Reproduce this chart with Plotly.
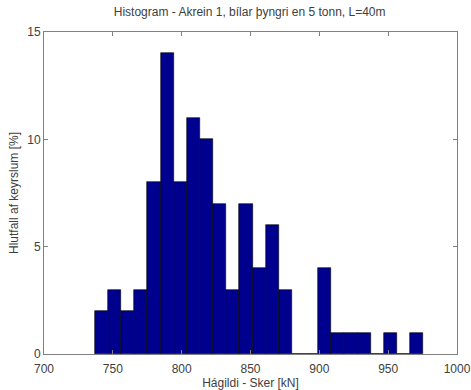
import plotly.graph_objects as go

# Histogram of peak shear for lane 1, vehicles heavier than 5 t, span L=40 m
bin_start = 737.0        # kN, left edge of the first bin
bin_width = 9.54         # kN
percent = [2, 3, 2, 3, 8, 14, 8, 11, 10, 7, 3, 7, 4, 6, 3,
           0, 0, 4, 1, 1, 1, 0, 1, 0, 1]

x_ticks = [700, 750, 800, 850, 900, 950, 1000]
y_ticks = [0, 5, 10, 15]

centers = [bin_start + (i + 0.5) * bin_width for i in range(len(percent))]

FONT = "Liberation Sans, Arial, sans-serif"
TEXT_COLOR = "#404040"

fig = go.Figure(go.Bar(
    x=centers,
    y=percent,
    width=bin_width,
    marker=dict(color="#00008F", line=dict(color="#000000", width=0.6)),
))

axis_common = dict(
    showgrid=False,
    zeroline=False,
    showline=True,
    linecolor="#808080",
    linewidth=1,
    mirror="ticks",
    ticks="inside",
    ticklen=4,
    tickcolor="#808080",
    automargin=False,
    tickfont=dict(family=FONT, size=12, color=TEXT_COLOR),
)

fig.update_layout(
    width=471,
    height=390,
    margin=dict(l=44, r=14, t=32, b=36),
    paper_bgcolor="white",
    plot_bgcolor="white",
    showlegend=False,
    bargap=0,
    title=dict(
        text="Histogram - Akrein 1, bílar þyngri en 5 tonn, L=40m",
        x=0.53, xanchor="center", y=0.97, yanchor="middle",
        font=dict(family=FONT, size=12, color=TEXT_COLOR),
    ),
    xaxis=dict(
        range=[700, 1000],
        tickvals=x_ticks,
        ticklabelstandoff=4,
        title=dict(text="Hágildi - Sker [kN]", standoff=0,
                   font=dict(family=FONT, size=12, color=TEXT_COLOR)),
        **axis_common,
    ),
    yaxis=dict(
        range=[0, 15],
        tickvals=y_ticks,
        title=dict(text="Hlutfall af keyrslum [%]", standoff=6,
                   font=dict(family=FONT, size=12, color=TEXT_COLOR)),
        **axis_common,
    ),
)

fig.write_html("out.html")
